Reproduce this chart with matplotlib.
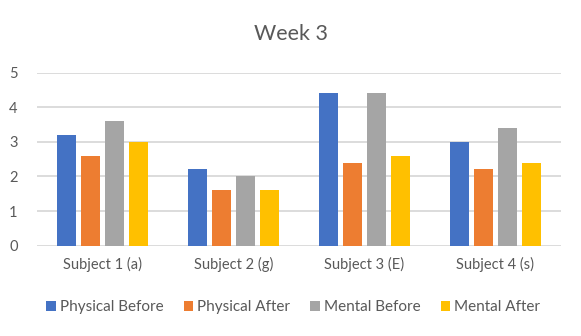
import numpy as np
import matplotlib
matplotlib.use("Agg")
from matplotlib import pyplot as plt

# ---------------- DATA ----------------
subjects = ["Subject 1 (a)", "Subject 2 (g)", "Subject 3 (E)", "Subject 4 (s)"]
series_names = ["Physical Before", "Physical After", "Mental Before", "Mental After"]
physical_before = [3.2, 2.2, 4.4, 3.0]
physical_after = [2.6, 1.6, 2.4, 2.2]
mental_before = [3.6, 2.0, 4.4, 3.4]
mental_after = [3.0, 1.6, 2.6, 2.4]
colors = ["#4472C4", "#ED7D31", "#A5A5A5", "#FFC000"]

# ---------------- PLOT ----------------
plt.rcParams["font.family"] = ["Lato", "DejaVu Sans"]
text_grey = "#595959"

fig = plt.figure(figsize=(5.81, 3.36), dpi=100)
ax = fig.add_axes([37 / 581, 0.269, 524 / 581, 0.515])

x = np.arange(len(subjects))
width = 0.145
step = 0.183
all_series = [physical_before, physical_after, mental_before, mental_after]
for i, vals in enumerate(all_series):
    ax.bar(x + (i - 1.5) * step, vals, width, color=colors[i], label=series_names[i], zorder=3)

ax.set_xlim(-0.5, len(subjects) - 0.5)
ax.set_ylim(0, 5)
ax.set_yticks(range(6))
ax.set_xticks(x)
ax.set_xticklabels(subjects)
ax.yaxis.grid(True, color="#D9D9D9", linewidth=1.3, zorder=0)
for s in ax.spines.values():
    s.set_visible(False)
ax.tick_params(axis="both", length=0, colors=text_grey, labelsize=10.5)
ax.tick_params(axis="y", pad=14)
ax.tick_params(axis="x", pad=8)

fig.text(0.5, 0.9, "Week 3", ha="center", va="center", fontsize=15.5, color=text_grey)

fig.legend(loc="center", bbox_to_anchor=(0.505, 0.085), ncol=4, frameon=False,
           fontsize=11, handlelength=0.6, handleheight=0.6, handletextpad=0.3,
           columnspacing=1.3, labelcolor=text_grey)

fig.savefig("out.png", dpi=100)
